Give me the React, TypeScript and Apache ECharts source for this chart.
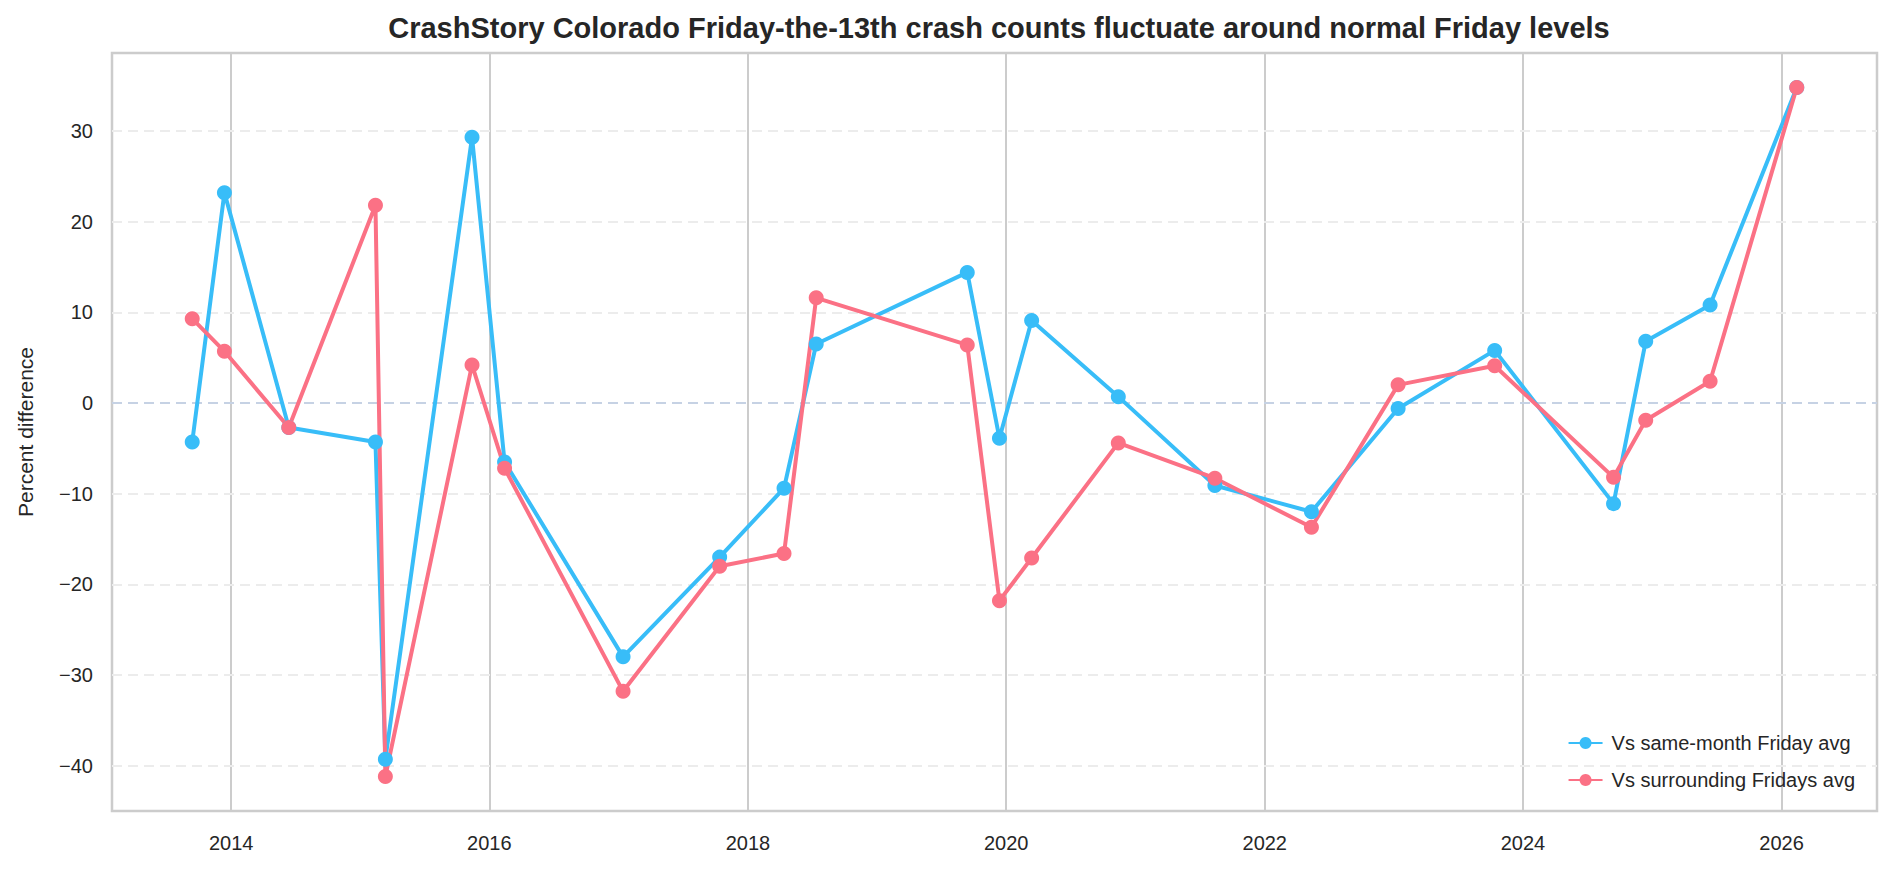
import React, { useEffect, useRef } from "react";
import * as echarts from "echarts";

const dates = [
  "2013-09-13", "2013-12-13", "2014-06-13", "2015-02-13", "2015-03-13", "2015-11-13",
  "2016-02-13", "2017-01-13", "2017-10-13", "2018-04-13", "2018-07-13", "2019-09-13",
  "2019-12-13", "2020-03-13", "2020-11-13", "2021-08-13", "2022-05-13", "2023-01-13",
  "2023-10-13", "2024-09-13", "2024-12-13", "2025-06-13", "2026-02-13",
];
const sameMonth = [
  -4.3, 23.2, -2.7, -4.3, -39.3, 29.3, -6.5, -28.0, -17.0, -9.4, 6.5, 14.4,
  -3.9, 9.1, 0.7, -9.1, -12.0, -0.6, 5.8, -11.1, 6.8, 10.8, 34.8,
];
const surrounding = [
  9.3, 5.7, -2.7, 21.8, -41.2, 4.2, -7.2, -31.8, -18.0, -16.6, 11.6, 6.4,
  -21.8, -17.1, -4.4, -8.3, -13.7, 2.0, 4.1, -8.2, -1.9, 2.4, 34.8,
];
const yearTicks = [2014, 2016, 2018, 2020, 2022, 2024, 2026];
const yTicks = [-40, -30, -20, -10, 0, 10, 20, 30];

const seriesNames = ["Vs same-month Friday avg", "Vs surrounding Fridays avg"];
const colors = ["#38bdf8", "#fb7185"];
const title =
  "CrashStory Colorado Friday-the-13th crash counts fluctuate around normal Friday levels";

const FONT = "'Liberation Sans', Arial, sans-serif";
const TEXT = "#262626";

export default function App() {
  const ref = useRef<HTMLDivElement>(null);
  useEffect(() => {
    if (!ref.current) return;
    const chart = echarts.init(ref.current, undefined, { renderer: "svg" });
    const ts = dates.map((d) => Date.parse(d + "T00:00:00Z"));
    const t0 = ts[0];
    const t1 = ts[ts.length - 1];
    const xpad = (t1 - t0) * 0.05;
    const all = sameMonth.concat(surrounding);
    const lo = Math.min(...all);
    const hi = Math.max(...all);
    const ypad = (hi - lo) * 0.05;
    const yearTs = yearTicks.map((y) => Date.UTC(y, 0, 1));

    const vGrid = yearTs.map((t) => ({
      xAxis: t,
      lineStyle: { color: "#cccccc", width: 2, type: "solid" as const },
    }));
    const hGrid = yTicks.map((v) => ({
      yAxis: v,
      lineStyle:
        v === 0
          ? { color: "#c6d2e4", width: 2, type: [10, 6] as any }
          : { color: "#ececec", width: 2, type: [10, 6] as any },
    }));

    const mkSeries = (name: string, vals: number[], color: string, withGrid: boolean) => ({
      name,
      type: "line",
      data: ts.map((t, i) => [t, vals[i]]),
      symbol: "circle",
      symbolSize: 15,
      showSymbol: true,
      lineStyle: { color, width: 4 },
      itemStyle: { color },
      z: 5,
      markLine: withGrid
        ? {
            silent: true,
            symbol: ["none", "none"],
            label: { show: false },
            z: 1,
            animation: false,
            data: [...vGrid, ...hGrid],
          }
        : undefined,
    });

    chart.setOption({
      animation: false,
      backgroundColor: "#ffffff",
      title: {
        text: title,
        left: 994,
        top: 8,
        textAlign: "center",
        textStyle: { fontFamily: FONT, fontSize: 29, fontWeight: "bold", color: TEXT },
      },
      grid: {
        left: 112,
        right: 17,
        top: 53,
        bottom: 60,
        show: true,
        borderColor: "#cccccc",
        borderWidth: 2.5,
        backgroundColor: "transparent",
      },
      legend: {
        data: seriesNames,
        orient: "vertical",
        right: 34,
        bottom: 76,
        itemWidth: 34,
        itemHeight: 15,
        itemGap: 17,
        textStyle: { fontFamily: FONT, fontSize: 20, color: TEXT, padding: [0, 0, 0, 4] },
      },
      xAxis: {
        type: "value",
        min: t0 - xpad,
        max: t1 + xpad,
        axisLine: { show: false },
        axisTick: { show: false, customValues: yearTs },
        splitLine: { show: false },
        axisLabel: {
          customValues: yearTs,
          formatter: (v: number) => String(new Date(v).getUTCFullYear()),
          fontFamily: FONT,
          fontSize: 20,
          color: TEXT,
          margin: 22,
          showMinLabel: true,
          showMaxLabel: true,
        },
      },
      yAxis: {
        type: "value",
        min: lo - ypad,
        max: hi + ypad,
        name: "Percent difference",
        nameLocation: "middle",
        nameGap: 76,
        nameTextStyle: { fontFamily: FONT, fontSize: 21, color: TEXT },
        axisLine: { show: false },
        axisTick: { show: false, customValues: yTicks },
        splitLine: { show: false },
        axisLabel: {
          customValues: yTicks,
          formatter: (v: number) => (v < 0 ? "\u2212" + Math.abs(v) : String(v)),
          fontFamily: FONT,
          fontSize: 20,
          color: TEXT,
          margin: 19,
        },
      },
      series: [
        mkSeries(seriesNames[0], sameMonth, colors[0], true),
        mkSeries(seriesNames[1], surrounding, colors[1], false),
      ],
    });
    return () => chart.dispose();
  }, []);
  return (
    <div
      ref={ref}
      style={{ position: "absolute", left: 0, top: 0, width: 1894, height: 871 }}
    />
  );
}
